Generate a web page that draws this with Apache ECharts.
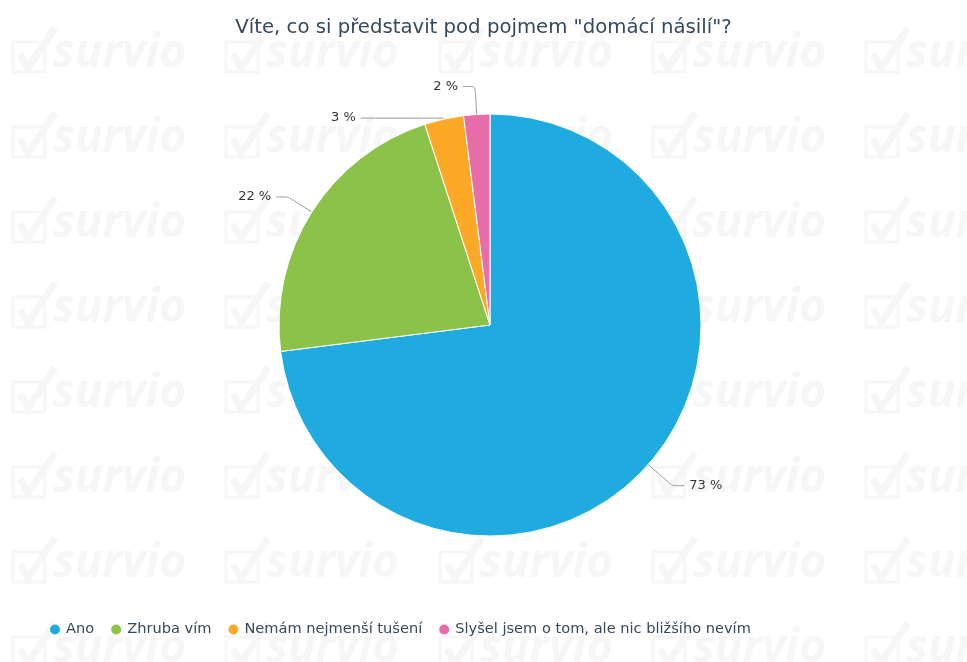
<!DOCTYPE html>
<html>
<head>
<meta charset="utf-8">
<script src="https://cdn.jsdelivr.net/npm/echarts@6/dist/echarts.min.js"></script>
<style>
  html, body { margin: 0; padding: 0; background: #fff; }
  #chart { width: 967px; height: 662px; }
</style>
</head>
<body>
<div id="chart"></div>
<script>
const categories = ['Ano', 'Zhruba vím', 'Nemám nejmenší tušení', 'Slyšel jsem o tom, ale nic bližšího nevím'];
const values = [73, 22, 3, 2];
const colors = ['#1faae0', '#8bc34a', '#fba926', '#e86eab'];

const chart = echarts.init(document.getElementById('chart'));

// survio watermark tiles in the background
const wmColor = '#f6f6f6';
const wmCols = [13, 226, 440, 653, 866];
const wmRows = [28, 113, 198, 283, 368, 453, 538, 623];
let watermark = [];
for (let y of wmRows) {
  for (let x of wmCols) {
    watermark.push({
      type: 'group',
      x: x,
      y: y,
      silent: true,
      z: 0,
      children: [
        {
          type: 'rect',
          shape: { x: 0, y: 14, width: 32, height: 30 },
          style: { fill: 'none', stroke: wmColor, lineWidth: 3 }
        },
        {
          type: 'polyline',
          shape: { points: [[7, 26], [15, 40], [42, 0]] },
          style: { fill: 'none', stroke: wmColor, lineWidth: 7 }
        },
        {
          type: 'text',
          x: 40,
          y: 26,
          style: {
            text: 'survio',
            fill: wmColor,
            font: 'italic bold 46px "Open Sans"',
            verticalAlign: 'middle'
          }
        }
      ]
    });
  }
}

// per-slice label line lengths, the small orange slice gets a long second segment
const labelLines = [{ length: 32, length2: 12 }, null, { length: 1, length2: 83 }, null];

const option = {
  backgroundColor: '#fff',
  color: colors,
  graphic: watermark,
  title: {
    text: 'Víte, co si představit pod pojmem "domácí násilí"?',
    left: 'center',
    top: 13,
    textStyle: {
      fontFamily: 'DejaVu Sans',
      fontSize: 19.7,
      fontWeight: 'normal',
      color: '#34495e'
    }
  },
  legend: {
    left: 43,
    top: 617,
    icon: 'circle',
    itemWidth: 12,
    itemHeight: 12,
    itemGap: 15,
    textStyle: {
      fontFamily: 'DejaVu Sans',
      fontSize: 14.6,
      color: '#34495e'
    },
    data: categories
  },
  series: [
    {
      type: 'pie',
      center: [490, 325],
      radius: 211,
      startAngle: 90,
      clockwise: true,
      avoidLabelOverlap: true,
      itemStyle: {
        borderColor: '#fff',
        borderWidth: 1
      },
      label: {
        formatter: '{d} %',
        fontFamily: 'DejaVu Sans',
        fontSize: 13,
        color: '#333'
      },
      labelLine: {
        length: 28,
        length2: 12,
        smooth: 0.15,
        lineStyle: { color: '#999', width: 1 }
      },
      emphasis: { scale: false },
      data: categories.map((name, i) => {
        let item = { name: name, value: values[i] };
        if (labelLines[i]) item.labelLine = labelLines[i];
        return item;
      })
    }
  ]
};

option && chart.setOption(option);
</script>
</body>
</html>
